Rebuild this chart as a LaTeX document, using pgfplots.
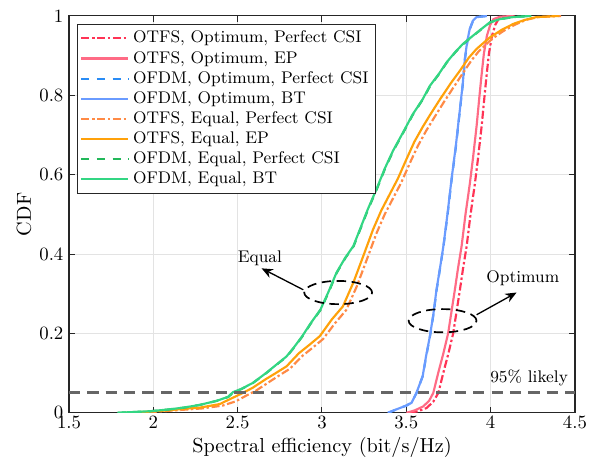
\documentclass[border=0pt]{standalone}
\usepackage{pgfplots}
\pgfplotsset{compat=1.18}
\usetikzlibrary{arrows.meta}

\definecolor{redPC}{HTML}{FF3355}
\definecolor{redEP}{HTML}{FF6B85}
\definecolor{bluePC}{HTML}{2A8CF5}
\definecolor{blueBT}{HTML}{6A9BFF}
\definecolor{orgPC}{HTML}{FF8A45}
\definecolor{orgEP}{HTML}{FFA10A}
\definecolor{grnPC}{HTML}{22B85A}
\definecolor{grnBT}{HTML}{33D683}
\definecolor{axgray}{HTML}{262626}

\tikzset{
  dashdot/.style={dash pattern=on 4.3pt off 1.4pt on 1.3pt off 1.4pt},
  mdashed/.style={dash pattern=on 4.3pt off 4pt},
}

\begin{document}
\begin{tikzpicture}
\useasboundingbox (-36.8pt,-30.4pt) rectangle (280.6pt,220.2pt);
\begin{axis}[
  scale only axis,
  width=269.9pt, height=211.7pt,
  xmin=1.5, xmax=4.5, ymin=0, ymax=1,
  xtick={1.5,2,2.5,3,3.5,4,4.5},
  ytick={0,0.2,0.4,0.6,0.8,1},
  xticklabels={1.5,2,2.5,3,3.5,4,4.5},
  yticklabels={0,0.2,0.4,0.6,0.8,1},
  xticklabel style={yshift=-0.8pt, inner sep=0.8pt},
  yticklabel style={xshift=-2pt, inner sep=0.8pt},
  grid=major,
  major grid style={draw=black!11, line width=0.5pt},
  axis line style={draw=axgray, line width=0.6pt},
  tick style={draw=axgray, line width=0.5pt},
  major tick length=3pt,
  xlabel={Spectral efficiency (bit/s/Hz)},
  ylabel={CDF},
  label style={font=\fontsize{10.8}{12}\selectfont},
  every axis plot/.append style={line width=1.15pt},
  legend style={at={(0.0158,0.98)}, anchor=north west, draw=axgray,
    line width=0.6pt, font=\small, inner sep=1.5pt, row sep=-1.1pt,
    cells={anchor=west}},
  legend image code/.code={\draw[#1] plot coordinates {(0cm,0cm) (0.88cm,0cm)};},
]
% OTFS, Optimum, Perfect CSI
\addplot[color=redPC, dashdot] coordinates {
(3.52,0) (3.57,0.004) (3.62,0.012) (3.66,0.028) (3.69,0.05) (3.719,0.1) (3.75,0.15)
(3.778,0.2) (3.798,0.255) (3.818,0.31) (3.837,0.365) (3.858,0.42) (3.881,0.5)
(3.906,0.575) (3.925,0.64) (3.947,0.723) (3.962,0.79) (3.976,0.85) (3.99,0.905)
(4.008,0.95) (4.028,0.978) (4.047,0.992) (4.08,0.998) (4.15,1.0)
};
\addlegendentry{OTFS, Optimum, Perfect CSI}
% OTFS, Optimum, EP
\addplot[color=redEP] coordinates {
(3.501,0) (3.55,0.006) (3.6,0.016) (3.635,0.03) (3.66,0.05) (3.689,0.1) (3.72,0.15)
(3.748,0.2) (3.768,0.255) (3.788,0.31) (3.807,0.365) (3.828,0.42) (3.851,0.5)
(3.876,0.575) (3.895,0.64) (3.917,0.723) (3.932,0.79) (3.946,0.85) (3.96,0.905)
(3.978,0.95) (3.998,0.978) (4.017,0.992) (4.056,0.998) (4.135,1.0)
};
\addlegendentry{OTFS, Optimum, EP}
% OFDM, Optimum, Perfect CSI
\addplot[color=bluePC, mdashed] coordinates {
(3.393,0) (3.45,0.01) (3.5,0.018) (3.532,0.026) (3.561,0.05) (3.598,0.093) (3.617,0.14)
(3.641,0.194) (3.662,0.25) (3.68,0.31) (3.701,0.366) (3.721,0.421) (3.745,0.5)
(3.769,0.588) (3.794,0.67) (3.819,0.766) (3.836,0.831) (3.848,0.892) (3.862,0.935)
(3.877,0.967) (3.896,0.988) (3.918,0.997) (3.98,1.0)
};
\addlegendentry{OFDM, Optimum, Perfect CSI}
% OFDM, Optimum, BT
\addplot[color=blueBT] coordinates {
(3.39,0) (3.45,0.01) (3.499,0.018) (3.531,0.025) (3.56,0.05) (3.597,0.092) (3.616,0.14)
(3.64,0.193) (3.661,0.25) (3.679,0.31) (3.7,0.365) (3.72,0.42) (3.744,0.5)
(3.768,0.588) (3.793,0.67) (3.818,0.765) (3.835,0.83) (3.847,0.891) (3.861,0.935)
(3.876,0.967) (3.895,0.988) (3.917,0.997) (3.978,1.0)
};
\addlegendentry{OFDM, Optimum, BT}
% OTFS, Equal, Perfect CSI
\addplot[color=orgPC, dashdot] coordinates {
(1.88,0) (1.99,0.002) (2.09,0.005) (2.19,0.008) (2.29,0.011) (2.41,0.018) (2.49,0.029)
(2.55,0.043) (2.61,0.056) (2.688,0.078) (2.746,0.094) (2.81,0.111) (2.883,0.143)
(2.942,0.163) (3.007,0.186) (3.078,0.226) (3.144,0.259) (3.206,0.318) (3.265,0.385)
(3.323,0.452) (3.372,0.5) (3.421,0.54) (3.47,0.58) (3.522,0.63) (3.568,0.672)
(3.617,0.71) (3.66,0.74) (3.72,0.781) (3.783,0.822) (3.836,0.856) (3.888,0.889)
(3.932,0.912) (4.008,0.942) (4.076,0.962) (4.145,0.978) (4.21,0.99) (4.28,0.997) (4.418,1.0)
};
\addlegendentry{OTFS, Equal, Perfect CSI}
% OTFS, Equal, EP
\addplot[color=orgEP] coordinates {
(1.836,0) (1.983,0.003) (2.081,0.006) (2.179,0.01) (2.276,0.013) (2.394,0.022) (2.472,0.038)
(2.531,0.05) (2.589,0.063) (2.668,0.085) (2.726,0.1) (2.79,0.117) (2.863,0.15)
(2.922,0.17) (2.987,0.193) (3.058,0.235) (3.124,0.268) (3.186,0.328) (3.245,0.395)
(3.303,0.462) (3.352,0.51) (3.401,0.55) (3.45,0.59) (3.502,0.64) (3.548,0.683)
(3.597,0.72) (3.64,0.75) (3.7,0.79) (3.763,0.83) (3.818,0.862) (3.871,0.895)
(3.917,0.917) (3.996,0.946) (4.066,0.965) (4.135,0.98) (4.203,0.99) (4.271,0.997) (4.408,1.0)
};
\addlegendentry{OTFS, Equal, EP}
% OFDM, Equal, Perfect CSI
\addplot[color=grnPC, mdashed] coordinates {
(1.79,0) (1.888,0.002) (1.985,0.004) (2.083,0.008) (2.181,0.013) (2.278,0.02) (2.376,0.03)
(2.445,0.04) (2.474,0.051) (2.523,0.06) (2.591,0.075) (2.67,0.1) (2.728,0.12)
(2.792,0.142) (2.836,0.165) (2.885,0.193) (2.934,0.225) (2.993,0.26) (3.041,0.305)
(3.088,0.353) (3.139,0.39) (3.188,0.42) (3.227,0.462) (3.274,0.513) (3.325,0.563)
(3.374,0.615) (3.423,0.66) (3.481,0.705) (3.54,0.752) (3.599,0.79) (3.642,0.824)
(3.697,0.855) (3.741,0.883) (3.794,0.91) (3.837,0.929) (3.897,0.95) (3.941,0.965)
(3.998,0.984) (4.058,0.992) (4.134,0.997) (4.244,1.0)
};
\addlegendentry{OFDM, Equal, Perfect CSI}
% OFDM, Equal, BT
\addplot[color=grnBT] coordinates {
(1.787,0) (1.886,0.002) (1.983,0.004) (2.081,0.008) (2.179,0.013) (2.276,0.02) (2.374,0.03)
(2.443,0.04) (2.472,0.052) (2.521,0.06) (2.589,0.075) (2.668,0.1) (2.726,0.12)
(2.79,0.142) (2.834,0.165) (2.883,0.193) (2.932,0.225) (2.991,0.26) (3.039,0.305)
(3.086,0.353) (3.137,0.39) (3.186,0.42) (3.225,0.462) (3.272,0.513) (3.323,0.563)
(3.372,0.615) (3.421,0.66) (3.479,0.705) (3.538,0.752) (3.597,0.79) (3.64,0.824)
(3.695,0.855) (3.739,0.883) (3.792,0.91) (3.835,0.929) (3.895,0.95) (3.939,0.965)
(3.996,0.984) (4.056,0.992) (4.132,0.997) (4.242,1.0)
};
\addlegendentry{OFDM, Equal, BT}
% 95% reference line
\addplot[color=black!60, line width=1.6pt, dash pattern=on 6pt off 3.8pt, forget plot]
  coordinates {(1.5,0.05) (4.5,0.05)};
% annotations
\draw[black, line width=0.9pt, dash pattern=on 5pt off 3pt]
  (axis cs:3.096,0.303) ellipse [x radius=18.1pt, y radius=6.2pt];
\draw[black, line width=0.9pt, dash pattern=on 5pt off 3pt]
  (axis cs:3.715,0.232) ellipse [x radius=18.1pt, y radius=6.2pt];
\draw[-{Stealth[length=6pt,width=5pt]}, line width=0.7pt]
  (axis cs:2.889,0.31) -- (axis cs:2.642,0.364);
\draw[-{Stealth[length=6pt,width=5pt]}, line width=0.7pt]
  (axis cs:3.917,0.247) -- (axis cs:4.154,0.303);
\node[font=\small] at (axis cs:2.632,0.39) {Equal};
\node[font=\small] at (axis cs:4.191,0.338) {Optimum};
\node[font=\small, anchor=east, xshift=3pt] at (axis cs:4.464,0.088) {95\% likely};
\end{axis}
\end{tikzpicture}
\end{document}
